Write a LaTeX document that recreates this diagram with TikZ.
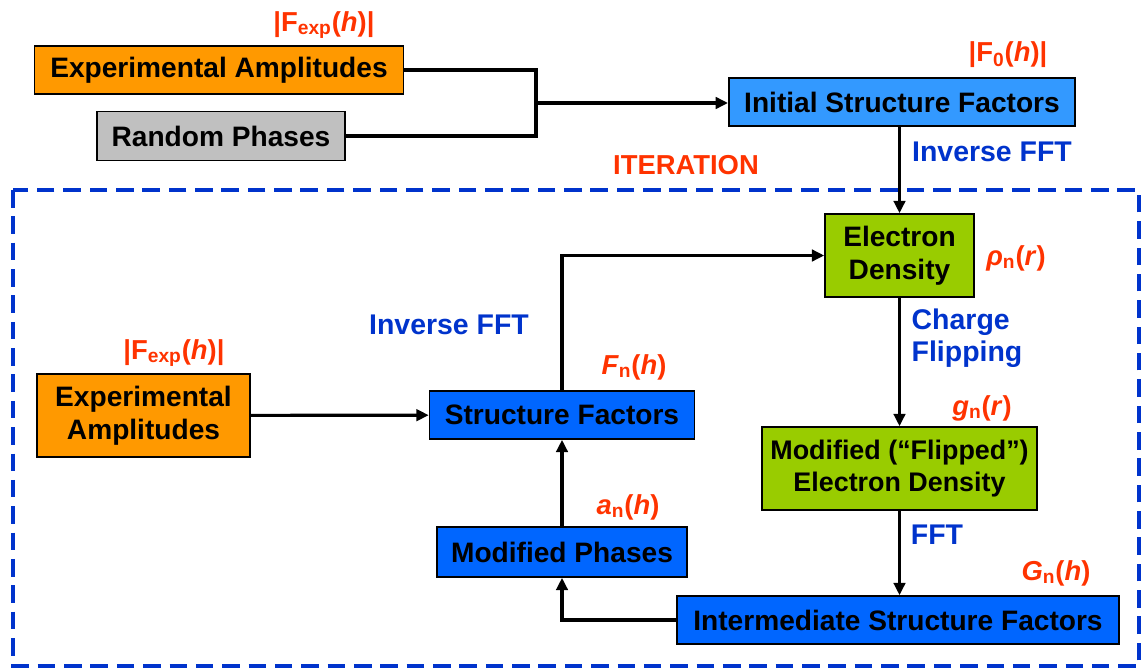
\documentclass[tikz,border=0pt]{standalone}
\usepackage{fontspec}
\setmainfont{Liberation Sans}
\usepackage{tikz}
\usetikzlibrary{arrows.meta,positioning}
\definecolor{ampOrange}{HTML}{FF9900}
\definecolor{phaseGray}{HTML}{C0C0C0}
\definecolor{initBlue}{HTML}{3399FF}
\definecolor{sfBlue}{HTML}{0066FF}
\definecolor{rhoGreen}{HTML}{99CC00}
\definecolor{qtyRed}{HTML}{FF3300}
\definecolor{opBlue}{HTML}{0033CC}
\tikzset
{
    stepnode/.style = {draw=black, line width=0.9pt, align=center,
                       inner sep=0pt, anchor=center,
                       font=\fontsize{16}{18.5}\selectfont\bfseries},
    qtylabel/.style = {text=qtyRed, inner sep=0pt,
                       font=\fontsize{15.6}{18}\selectfont\bfseries},
    oplabel/.style  = {text=opBlue, inner sep=0pt, align=left,
                       font=\fontsize{16.2}{18.5}\selectfont\bfseries},
    flowline/.style = {line width=1.8pt, -{Triangle[length=7pt,width=6.5pt]}}
}

\begin{document}
\begin{tikzpicture}[x=0.02cm, y=-0.02cm]
    \useasboundingbox (0,0) rectangle (1141,669);
    % iteration frame
    \draw[opBlue, line width=2pt, dash pattern=on 10pt off 5pt]
        (13,190) rectangle (1139,666);
    \node[qtylabel] (iter) at (686,165) {ITERATION};

    % start-up boxes
    \node[stepnode, fill=ampOrange, minimum width=7.38cm, minimum height=0.96cm]
        (expTop) at (219,70) {Experimental Amplitudes};
    \node[stepnode, fill=phaseGray, minimum width=4.96cm, minimum height=0.98cm]
        (rand) at (221,136) {Random Phases};
    \node[stepnode, fill=initBlue, minimum width=6.93cm, minimum height=0.96cm]
        (init) at (902,102) {Initial Structure Factors};

    % cycle boxes
    \node[stepnode, fill=rhoGreen, minimum width=2.98cm, minimum height=1.66cm]
        (ed) at (899.5,255.5) {Electron\\Density};
    \node[stepnode, fill=rhoGreen, minimum width=5.5cm, minimum height=1.66cm,
          font=\fontsize{15.3}{18.5}\selectfont\bfseries]
        (mfd) at (899.5,468.5) {Modified (“Flipped”)\\Electron Density};
    \node[stepnode, fill=sfBlue, minimum width=8.84cm, minimum height=0.96cm]
        (isf) at (898,620) {Intermediate Structure Factors};
    \node[stepnode, fill=sfBlue, minimum width=5.0cm, minimum height=1.0cm]
        (mp) at (562,552) {Modified Phases};
    \node[stepnode, fill=sfBlue, minimum width=5.3cm, minimum height=0.96cm]
        (sf) at (562,415) {Structure Factors};
    \node[stepnode, fill=ampOrange, minimum width=4.26cm, minimum height=1.66cm]
        (expIn) at (143.5,415.5) {Experimental\\Amplitudes};

    % quantities
    \node[qtylabel] (fexpTop) at (324,25) {|F\textsubscript{exp}(\textit{h})|};
    \node[qtylabel] (fzero) at (1008,55) {|F\textsubscript{0}(\textit{h})|};
    \node[qtylabel] (rhon) at (1016,258) {\textit{ρ}\textsubscript{n}(\textit{r})};
    \node[qtylabel] (gn) at (982,408) {\textit{g}\textsubscript{n}(\textit{r})};
    \node[qtylabel] (bigGn) at (1056,573) {\textit{G}\textsubscript{n}(\textit{h})};
    \node[qtylabel] (an) at (628,507) {\textit{a}\textsubscript{n}(\textit{h})};
    \node[qtylabel] (fn) at (634,367) {\textit{F}\textsubscript{n}(\textit{h})};
    \node[qtylabel] (fexpIn) at (174,353) {|F\textsubscript{exp}(\textit{h})|};

    % operations
    \node[oplabel] (ifftTop) at (992,152) {Inverse FFT};
    \node[oplabel] (ifftIn) at (449,325) {Inverse FFT};
    \node[oplabel] (flip) at (967,338) {Charge\\Flipping};
    \node[oplabel] (fft) at (937,535) {FFT};

    % connectors
    \coordinate (jn) at (536,103);
    \draw[line width=1.8pt] (expTop.east) -| (jn);
    \draw[line width=1.8pt] (rand.east) -| (jn);
    \draw[flowline] (jn) -- (jn -| init.west);
    \draw[flowline] (ed.north |- init.south) -- (ed.north);
    \draw[flowline] (ed) -- (mfd);
    \draw[flowline] (mfd.south) -- (mfd.south |- isf.north);
    \draw[flowline] (isf.west) -| (mp.south);
    \draw[flowline] (mp) -- (sf);
    \draw[flowline] (sf.north) |- (ed.west);
    \draw[flowline] (expIn) -- (sf);
\end{tikzpicture}
\end{document}
